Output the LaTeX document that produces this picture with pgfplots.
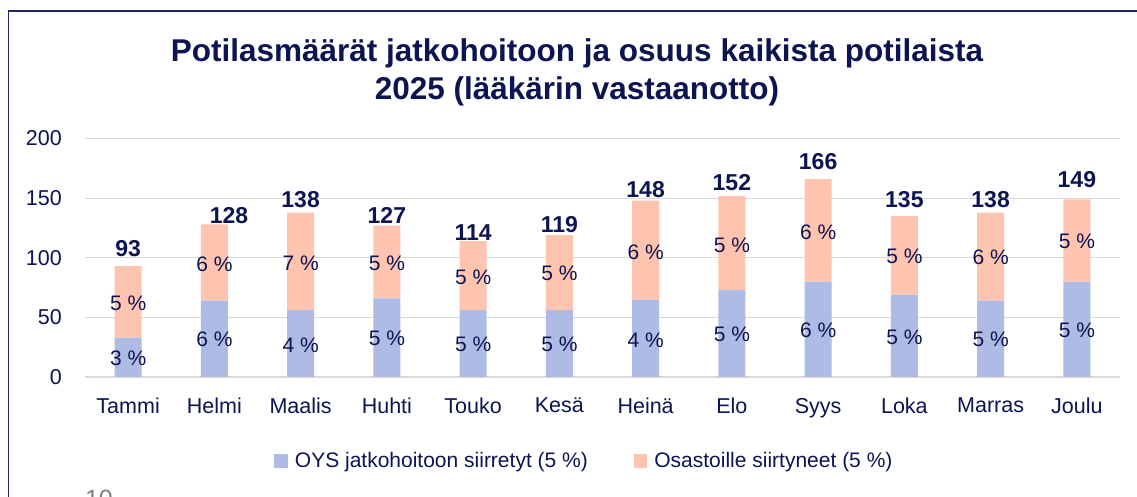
\documentclass[border=0pt]{standalone}
\usepackage{fontspec}
\setmainfont{Liberation Sans}
\usepackage{pgfplots}
\pgfplotsset{compat=1.18}
\usepackage{pgfplotstable}
\definecolor{navy}{RGB}{12,20,82}
\definecolor{barblue}{RGB}{174,187,229}
\definecolor{barsalmon}{RGB}{255,196,176}
\definecolor{gridgray}{RGB}{217,217,217}
\definecolor{framenavy}{RGB}{30,40,100}

\pgfplotstableread{
x blue salmon
0 33 60
1 64 64
2 56 82
3 66 61
4 56 58
5 56 63
6 65 83
7 73 79
8 80 86
9 69 66
10 64 74
11 80 69
}\bars

\pgfplotstableread{
x y lab
0 15.4 3
1 31.4 6
2 26.6 4
3 32.2 5
4 27.4 5
5 27.4 5
6 30.8 4
7 35.8 5
8 39.2 6
9 33.0 5
10 31.4 5
11 39.2 5
}\bluelab

\pgfplotstableread{
x y lab
0 61.6 5
1 94.5 6
2 95.7 7
3 95.7 5
4 83.4 5
5 86.7 5
6 104.9 6
7 110.5 5
8 121.6 6
9 101.3 5
10 100.7 6
11 114.1 5
}\salmonlab

\pgfplotstableread{
x y lab
0 107.7 93
1.17 135.7 128
2 149.1 138
3 135.7 127
4 120.8 114
5 128.1 119
6 157.2 148
7 162.8 152
8 180.4 166
9 148.8 135
10 148.8 138
11 165.6 149
}\totlab

\pgfplotsset{mybase/.style={at={(85pt,120pt)}, anchor=south west,
  width=1035pt, height=238.4pt, scale only axis,
  xmin=-0.5, xmax=11.5, ymin=0, ymax=200}}

\begin{document}
\begin{tikzpicture}[x=1pt,y=1pt]
\useasboundingbox[fill=white] (0,0) rectangle (1137,497);
\begin{scope}
\clip (0,0) rectangle (1137,497);
\draw[framenavy, line width=1.2pt] (8.5,-5) -- (8.5,486) -- (1142,486);
\node[anchor=north, inner sep=0pt, text=gray, font=\fontsize{25}{30}\selectfont] at (99,7) {10};
\end{scope}

\node[anchor=base, inner sep=0pt, text=navy, font=\fontsize{31.5}{38}\selectfont\bfseries] at (577,435.3) {Potilasmäärät jatkohoitoon ja osuus kaikista potilaista};
\node[anchor=base, inner sep=0pt, text=navy, font=\fontsize{31.5}{38}\selectfont\bfseries] at (577,397.7) {2025 (lääkärin vastaanotto)};

\begin{axis}[mybase, ybar stacked, bar width=27pt,
  ytick={0,50,...,200}, ymajorgrids,
  grid style={gridgray, line width=1.2pt},
  axis line style={draw=none}, major tick length=0pt,
  xtick={0,...,11},
  xticklabels={Tammi,Helmi,Maalis,Huhti,Touko,Kesä,Heinä,Elo,Syys,Loka,Marras,Joulu},
  /pgf/number format/assume math mode=true,
  ticklabel style={text=navy, font=\fontsize{21.5}{26}\selectfont, inner sep=0pt},
  xticklabel style={anchor=north, yshift=-21pt},
  yticklabel style={anchor=east, xshift=-23pt},
  legend style={at={(0.4816,-0.352)}, anchor=center, draw=none, fill=none,
    legend columns=2, font=\fontsize{21}{25}\selectfont, text=navy,
    nodes={inner sep=0pt},
    /tikz/every odd column/.append style={column sep=7pt},
    /tikz/every even column/.append style={column sep=46pt}},
  legend cell align=left,
  legend image code/.code={\fill[#1] (0pt,-6.75pt) rectangle (13.5pt,6.75pt);},
]
\addplot[fill=barblue, draw=none] table[x=x,y=blue]{\bars};
\addplot[fill=barsalmon, draw=none] table[x=x,y=salmon]{\bars};
\legend{OYS jatkohoitoon siirretyt (5 \%), Osastoille siirtyneet (5 \%)}
\end{axis}

\begin{axis}[mybase, hide axis, clip=false]
\addplot[draw=none, mark=none, point meta=explicit symbolic,
  nodes near coords={\pgfplotspointmeta~\%}, nodes near coords align=center,
  every node near coord/.append style={anchor=center, text=navy, font=\fontsize{21}{25}\selectfont}]
  table[x=x,y=y,meta=lab]{\bluelab};
\addplot[draw=none, mark=none, point meta=explicit symbolic,
  nodes near coords={\pgfplotspointmeta~\%}, nodes near coords align=center,
  every node near coord/.append style={anchor=center, text=navy, font=\fontsize{21}{25}\selectfont}]
  table[x=x,y=y,meta=lab]{\salmonlab};
\addplot[draw=none, mark=none, point meta=explicit symbolic,
  nodes near coords={\pgfplotspointmeta}, nodes near coords align=center,
  every node near coord/.append style={anchor=center, text=navy, font=\fontsize{23}{28}\selectfont\bfseries}]
  table[x=x,y=y,meta=lab]{\totlab};
\end{axis}
\end{tikzpicture}
\end{document}
